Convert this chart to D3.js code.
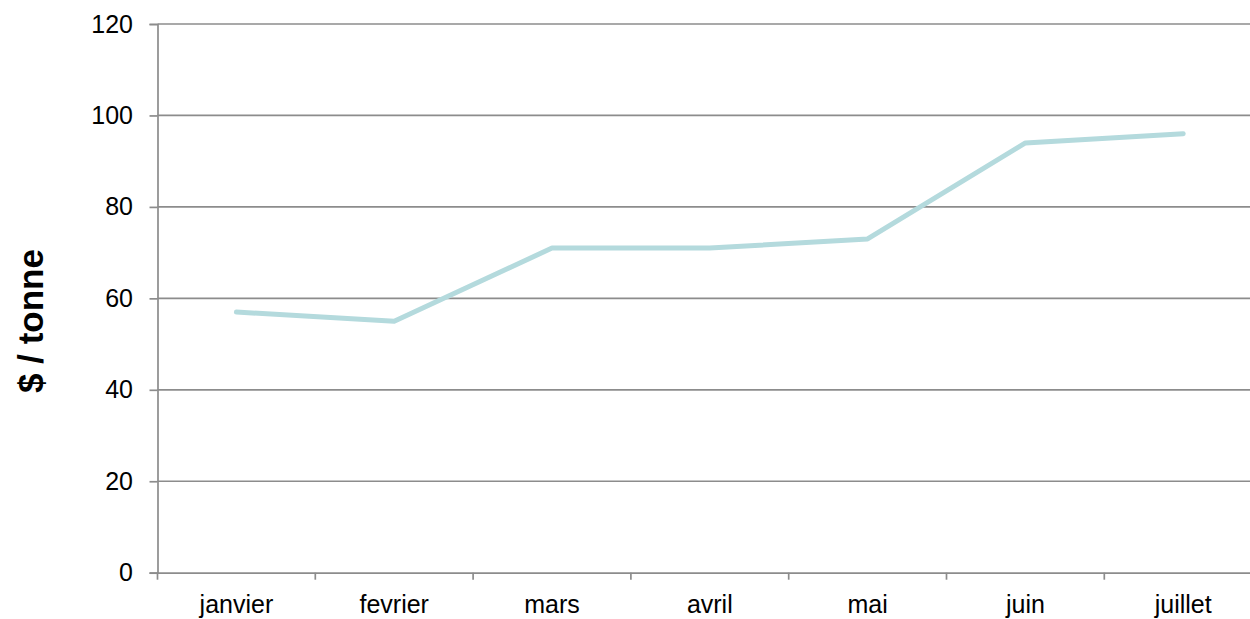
<!DOCTYPE html>
<html><head><meta charset="utf-8">
<script src="https://cdn.jsdelivr.net/npm/d3@7"></script>
<style>body{margin:0;background:#fff;} svg{display:block;}</style>
</head><body>
<script>
const categories = ["janvier","fevrier","mars","avril","mai","juin","juillet"];
const values = [57,55,71,71,73,94,96];
const yTicks = [0,20,40,60,80,100,120];
const yLabel = "$ / tonne";

const W=1250,H=619;
const mLeft=157.5, mRight=157.5+7*157.8, mTop=24, mBottom=572.7;
const svg=d3.select("body").append("svg").attr("width",W).attr("height",H);
const x=d3.scaleBand().domain(categories).range([mLeft,mRight]);
const y=d3.scaleLinear().domain([0,120]).range([mBottom,mTop]);
const grid="#8c8c8c";
const font="'Liberation Sans', Arial, sans-serif";

// gridlines
svg.append("g").selectAll("line").data(yTicks.filter(d=>d>0)).join("line")
  .attr("x1",mLeft).attr("x2",mRight).attr("y1",d=>y(d)).attr("y2",d=>y(d))
  .attr("stroke",grid).attr("stroke-width",1.7);

// y axis
const ya=svg.append("g").attr("transform",`translate(${mLeft},0)`)
  .call(d3.axisLeft(y).tickValues(yTicks).tickSize(8).tickPadding(16.5));
ya.select(".domain").attr("stroke",grid).attr("stroke-width",1.7);
ya.selectAll(".tick line").attr("stroke",grid).attr("stroke-width",1.7);
ya.selectAll("text").attr("font-family",font).attr("font-size",25).attr("fill","#000");

// x axis
const xa=svg.append("g").attr("transform",`translate(0,${mBottom})`)
  .call(d3.axisBottom(x).tickSize(0).tickPadding(22.5));
xa.select(".domain").attr("stroke",grid).attr("stroke-width",1.7);
xa.selectAll("text").attr("font-family",font).attr("font-size",25).attr("fill","#000");
xa.selectAll("line.sep").data(categories.concat(["_end"])).join("line").attr("class","sep")
  .attr("x1",(d,i)=>mLeft+i*x.step()).attr("x2",(d,i)=>mLeft+i*x.step())
  .attr("y1",0).attr("y2",7).attr("stroke",grid).attr("stroke-width",1.7);

// line
const line=d3.line().x((d,i)=>x(categories[i])+x.bandwidth()/2).y(d=>y(d));
svg.append("path").datum(values).attr("d",line).attr("fill","none")
  .attr("stroke","#b4dadd").attr("stroke-width",5).attr("stroke-linecap","round").attr("stroke-linejoin","round");

// y label
svg.append("text").attr("transform",`translate(43,321) rotate(-90)`)
  .attr("text-anchor","middle").attr("font-family",font).attr("font-weight","bold")
  .attr("font-size",35).text(yLabel);
</script>
</body></html>
